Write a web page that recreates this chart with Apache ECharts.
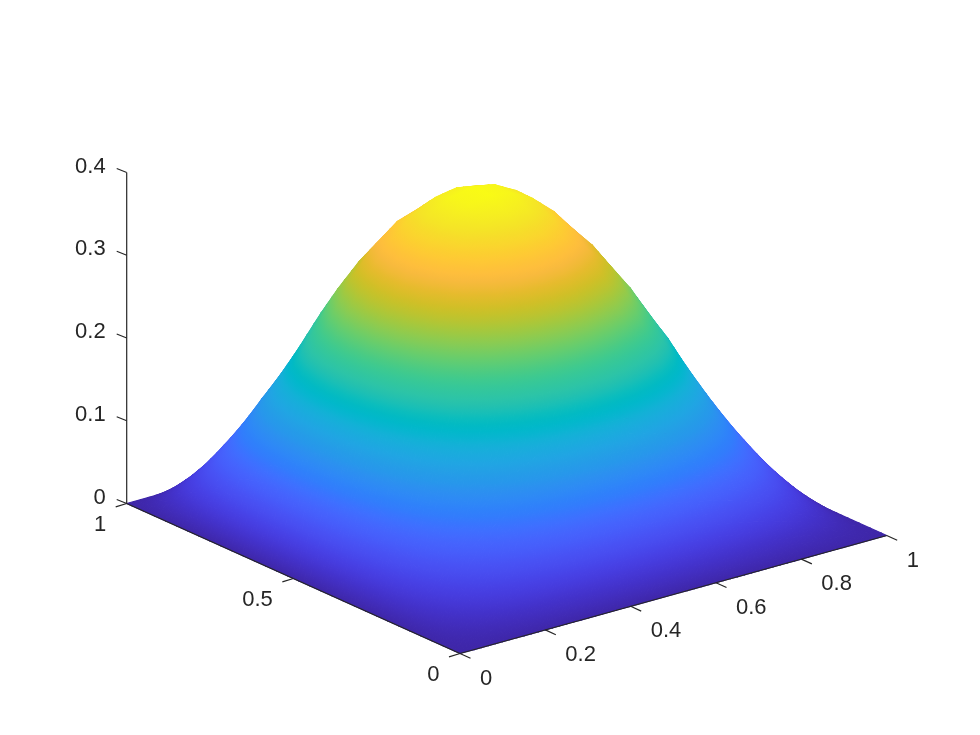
<!DOCTYPE html>
<html><head><meta charset="utf-8">
<style>html,body{margin:0;padding:0;background:#fff}#c{width:980px;height:735px}</style>
<script src="https://cdn.jsdelivr.net/npm/echarts@6/dist/echarts.min.js"></script>
</head><body><div id="c"></div>
<script>
// Grid coordinates
const xGrid=[0,.05,.1,.15,.2,.25,.3,.35,.4,.45,.5,.55,.6,.65,.7,.75,.8,.85,.9,.95,1];
const yGrid=[0,.05,.1,.15,.2,.25,.3,.35,.4,.45,.5,.55,.6,.65,.7,.75,.8,.85,.9,.95,1];
// Height, one list per x position, running over y = 0 .. 1
const zX00=[0,0,0,0,0,0,0,0,0,0,0,0,0,0,0,0,0,0,0,0,0];
const zX05=[0,.0042,.0101,.0168,.0239,.0310,.0379,.0444,.0500,.0547,.0580,.0599,.0600,.0584,.0548,.0494,.0421,.0333,.0231,.0118,0];
const zX10=[0,.0083,.0200,.0332,.0471,.0612,.0748,.0877,.0988,.1080,.1147,.1184,.1186,.1154,.1084,.0976,.0833,.0658,.0456,.0233,0];
const zX15=[0,.0123,.0294,.0488,.0692,.0898,.1100,.1288,.1452,.1587,.1685,.1739,.1742,.1696,.1592,.1433,.1224,.0967,.0670,.0343,0];
const zX20=[0,.0159,.0380,.0631,.0896,.1163,.1424,.1668,.1880,.2055,.2181,.2252,.2256,.2195,.2061,.1856,.1584,.1251,.0867,.0444,0];
const zX25=[0,.0191,.0457,.0759,.1078,.1399,.1713,.2006,.2262,.2472,.2624,.2709,.2714,.2641,.2480,.2232,.1906,.1505,.1043,.0534,0];
const zX30=[0,.0218,.0523,.0869,.1234,.1601,.1959,.2295,.2588,.2828,.3002,.3099,.3105,.3040,.2890,.2620,.2240,.1750,.1193,.0611,0];
const zX35=[0,.0241,.0576,.0957,.1359,.1763,.2158,.2528,.2850,.3115,.3307,.3413,.3420,.3345,.3180,.2880,.2460,.1925,.1314,.0673,0];
const zX40=[0,.0257,.0615,.1021,.1450,.1882,.2304,.2698,.3043,.3325,.3530,.3644,.3650,.3565,.3380,.3060,.2610,.2045,.1403,.0718,0];
const zX45=[0,.0267,.0639,.1061,.1506,.1955,.2392,.2802,.3160,.3453,.3665,.3784,.3791,.3689,.3464,.3118,.2662,.2103,.1457,.0746,0];
const zX50=[0,.0270,.0647,.1074,.1525,.1979,.2422,.2837,.3199,.3496,.3711,.3831,.3838,.3735,.3507,.3157,.2695,.2129,.1475,.0755,0];
const zX55=[0,.0267,.0639,.1061,.1506,.1955,.2392,.2802,.3160,.3453,.3665,.3784,.3791,.3689,.3464,.3118,.2662,.2103,.1457,.0746,0];
const zX60=[0,.0257,.0615,.1021,.1450,.1882,.2304,.2698,.3043,.3325,.3530,.3644,.3650,.3552,.3335,.3003,.2563,.2025,.1403,.0718,0];
const zX65=[0,.0241,.0576,.0957,.1359,.1763,.2158,.2560,.2890,.3145,.3307,.3413,.3420,.3328,.3125,.2813,.2401,.1897,.1314,.0673,0];
const zX70=[0,.0218,.0523,.0869,.1234,.1601,.1985,.2350,.2650,.2885,.3030,.3099,.3105,.3022,.2837,.2554,.2180,.1722,.1193,.0611,0];
const zX75=[0,.0191,.0457,.0759,.1078,.1399,.1740,.2060,.2325,.2530,.2650,.2709,.2714,.2641,.2480,.2232,.1906,.1505,.1043,.0534,0];
const zX80=[0,.0159,.0380,.0631,.0896,.1163,.1445,.1710,.1935,.2100,.2200,.2252,.2256,.2195,.2061,.1856,.1584,.1251,.0867,.0444,0];
const zX85=[0,.0123,.0294,.0488,.0692,.0898,.1100,.1288,.1452,.1587,.1685,.1739,.1742,.1696,.1592,.1433,.1224,.0967,.0670,.0343,0];
const zX90=[0,.0083,.0200,.0332,.0471,.0612,.0748,.0877,.0988,.1080,.1147,.1184,.1186,.1154,.1084,.0976,.0833,.0658,.0456,.0233,0];
const zX95=[0,.0042,.0101,.0168,.0239,.0310,.0379,.0444,.0500,.0547,.0580,.0599,.0600,.0584,.0548,.0494,.0421,.0333,.0231,.0118,0];
const zX100=[0,0,0,0,0,0,0,0,0,0,0,0,0,0,0,0,0,0,0,0,0];
const zRows=[zX00,zX05,zX10,zX15,zX20,zX25,zX30,zX35,zX40,zX45,zX50,zX55,zX60,zX65,zX70,zX75,zX80,zX85,zX90,zX95,zX100];
// Tick labels
const xTicks=[0,.2,.4,.6,.8,1], xTickLabels=['0','0.2','0.4','0.6','0.8','1'];
const yTicks=[0,.5,1], yTickLabels=['0','0.5','1'];
const zTicks=[0,.1,.2,.3,.4], zTickLabels=['0','0.1','0.2','0.3','0.4'];
// Parula colormap
const parula=[[.2422,.1504,.6603],[.2504,.1650,.7076],[.2578,.1818,.7511],[.2647,.1978,.7952],[.2706,.2147,.8364],[.2751,.2342,.8710],[.2783,.2559,.8991],[.2803,.2782,.9221],[.2813,.3006,.9414],[.2810,.3228,.9579],[.2795,.3447,.9717],[.2760,.3667,.9829],[.2699,.3892,.9906],[.2602,.4123,.9952],[.2440,.4358,.9988],[.2206,.4603,.9973],[.1963,.4847,.9892],[.1834,.5074,.9798],[.1786,.5289,.9682],[.1764,.5499,.9520],[.1687,.5703,.9359],[.1540,.5902,.9218],[.1460,.6091,.9079],[.1380,.6276,.8973],[.1248,.6459,.8883],[.1113,.6635,.8763],[.0952,.6798,.8598],[.0689,.6948,.8394],[.0297,.7082,.8163],[.0036,.7203,.7917],[.0067,.7312,.7660],[.0433,.7411,.7394],[.0964,.7500,.7120],[.1408,.7584,.6842],[.1717,.7670,.6554],[.1938,.7758,.6251],[.2161,.7843,.5923],[.2470,.7918,.5567],[.2906,.7973,.5188],[.3406,.8008,.4789],[.3909,.8029,.4354],[.4456,.8024,.3909],[.5044,.7993,.3480],[.5616,.7942,.3045],[.6174,.7876,.2612],[.6720,.7793,.2227],[.7242,.7698,.1910],[.7738,.7598,.1646],[.8203,.7498,.1535],[.8634,.7406,.1596],[.9035,.7330,.1774],[.9393,.7288,.2100],[.9728,.7298,.2394],[.9956,.7434,.2371],[.9970,.7659,.2199],[.9952,.7893,.2028],[.9892,.8136,.1885],[.9786,.8386,.1766],[.9676,.8639,.1643],[.9610,.8890,.1537],[.9597,.9135,.1423],[.9628,.9373,.1265],[.9691,.9606,.1064],[.9769,.9839,.0805]];

const zMax=Math.max.apply(null,zRows.map(r=>Math.max.apply(null,r)));
const LAST=parula.length-1;
const nodeColor=parula.map(c=>'rgb('+c.map(v=>Math.round(255*v)).join(',')+')');
// Orthographic view of the box onto the flat plane of the hidden axes
function proj(x,y,z){return [460+426.7*x-333.3*y, 653.5-118*x-150*y-827.5*z];}

// Interpolated shading: each grid cell is shaded bilinearly in small pieces, far to near
const SHADE=3;
function shadeVertex(i,j,u,v){
  const z=(1-u)*(1-v)*zRows[i][j]+u*(1-v)*zRows[i+1][j]+(1-u)*v*zRows[i][j+1]+u*v*zRows[i+1][j+1];
  return {x:xGrid[i]+u*(xGrid[i+1]-xGrid[i]),y:yGrid[j]+v*(yGrid[j+1]-yGrid[j]),z:z};
}
const tris=[];
for(let i=0;i<xGrid.length-1;i++)for(let j=0;j<yGrid.length-1;j++){
  for(let a=0;a<SHADE;a++)for(let b=0;b<SHADE;b++){
    const u0=a/SHADE,u1=(a+1)/SHADE,v0=b/SHADE,v1=(b+1)/SHADE;
    const A=shadeVertex(i,j,u0,v0),B=shadeVertex(i,j,u1,v0),C=shadeVertex(i,j,u1,v1),D=shadeVertex(i,j,u0,v1);
    const d=A.x*118+A.y*150;
    tris.push({d:d,v:[A,B,C]});
    tris.push({d:d,v:[A,C,D]});
  }
}
tris.sort((a,b)=>b.d-a.d);

function renderTri(params,api){
  const t=tris[params.dataIndex];
  const zs=t.v.map(p=>p.z);
  const pts=t.v.map(p=>api.coord(proj(p.x,p.y,p.z)));
  const ax=pts[1][0]-pts[0][0],ay=pts[1][1]-pts[0][1],bx=pts[2][0]-pts[0][0],by=pts[2][1]-pts[0][1];
  const dz1=zs[1]-zs[0],dz2=zs[2]-zs[0],det=ax*by-ay*bx;
  let fill;
  const zLo=Math.min.apply(null,zs),zHi=Math.max.apply(null,zs);
  if(zHi-zLo<1e-7||Math.abs(det)<1e-6){fill=nodeColor[Math.round(zLo/zMax*LAST)];}
  else{
    const gx=(dz1*by-dz2*ay)/det,gy=(dz2*ax-dz1*bx)/det,g2=gx*gx+gy*gy;
    const p0=pts[zs.indexOf(zLo)];
    let nA=Math.floor(zLo/zMax*LAST),nB=Math.ceil(zHi/zMax*LAST);
    nA=Math.max(0,Math.min(LAST-1,nA));nB=Math.max(nA+1,Math.min(LAST,nB));
    const sA=(nA*zMax/LAST-zLo)/g2,sB=(nB*zMax/LAST-zLo)/g2,stops=[];
    for(let n=nA;n<=nB;n++)stops.push({offset:(n-nA)/(nB-nA),color:nodeColor[n]});
    fill=new echarts.graphic.LinearGradient(p0[0]+gx*sA,p0[1]+gy*sA,p0[0]+gx*sB,p0[1]+gy*sB,stops,true);
  }
  return {type:'polygon',shape:{points:pts},style:{fill:fill,stroke:fill,lineWidth:1.2,lineJoin:'round'},silent:true};
}

// Axis segments and tick marks
const INK='#262626';
const segs=[
  {a:[0,0,0],b:[1,0,0]},{a:[0,0,0],b:[0,1,0]},{a:[0,1,0],b:[0,1,.4]}
];
xTicks.forEach(v=>segs.push({a:[v,0,0],off:[10.5,4.8]}));
yTicks.forEach(v=>segs.push({a:[0,v,0],off:[-11,3.4]}));
zTicks.forEach(v=>segs.push({a:[0,1,v],off:[-10,-4]}));
function renderSeg(params,api){
  const s=segs[params.dataIndex];
  const p=api.coord(proj.apply(null,s.a));
  const q=s.b?api.coord(proj.apply(null,s.b)):[p[0]+s.off[0],p[1]+s.off[1]];
  return {type:'line',shape:{x1:p[0],y1:p[1],x2:q[0],y2:q[1]},style:{stroke:INK,lineWidth:1.2,fill:null},silent:true};
}
// Tick labels
const labels=[];
xTicks.forEach((v,i)=>labels.push({a:[v,0,0],t:xTickLabels[i],dx:20,dy:25,al:'left'}));
yTicks.forEach((v,i)=>labels.push({a:[0,v,0],t:yTickLabels[i],dx:-20.5,dy:21.6,al:'right'}));
zTicks.forEach((v,i)=>labels.push({a:[0,1,v],t:zTickLabels[i],dx:-21,dy:-6,al:'right'}));
function renderLabel(params,api){
  const l=labels[params.dataIndex],p=api.coord(proj.apply(null,l.a));
  return {type:'text',style:{x:p[0]+l.dx,y:p[1]+l.dy,text:l.t,align:l.al,verticalAlign:'middle',fill:INK,font:'22px "Liberation Sans", Arial, sans-serif'},silent:true};
}
const hidden={type:'value',show:false};
const chart=echarts.init(document.getElementById('c'),null,{renderer:'canvas'});
chart.setOption({
  animation:false,backgroundColor:'#fff',
  grid:{left:0,right:0,top:0,bottom:0},
  xAxis:Object.assign({min:0,max:980},hidden),
  yAxis:Object.assign({min:0,max:735,inverse:true},hidden),
  series:[
    {type:'custom',coordinateSystem:'cartesian2d',clip:false,progressive:0,data:tris.map((t,i)=>[i]),renderItem:renderTri,encode:{x:0,y:0},z:2},
    {type:'custom',coordinateSystem:'cartesian2d',clip:false,data:segs.map((t,i)=>[i]),renderItem:renderSeg,encode:{x:0,y:0},z:3},
    {type:'custom',coordinateSystem:'cartesian2d',clip:false,data:labels.map((t,i)=>[i]),renderItem:renderLabel,encode:{x:0,y:0},z:4}
  ]
});
</script></body></html>
